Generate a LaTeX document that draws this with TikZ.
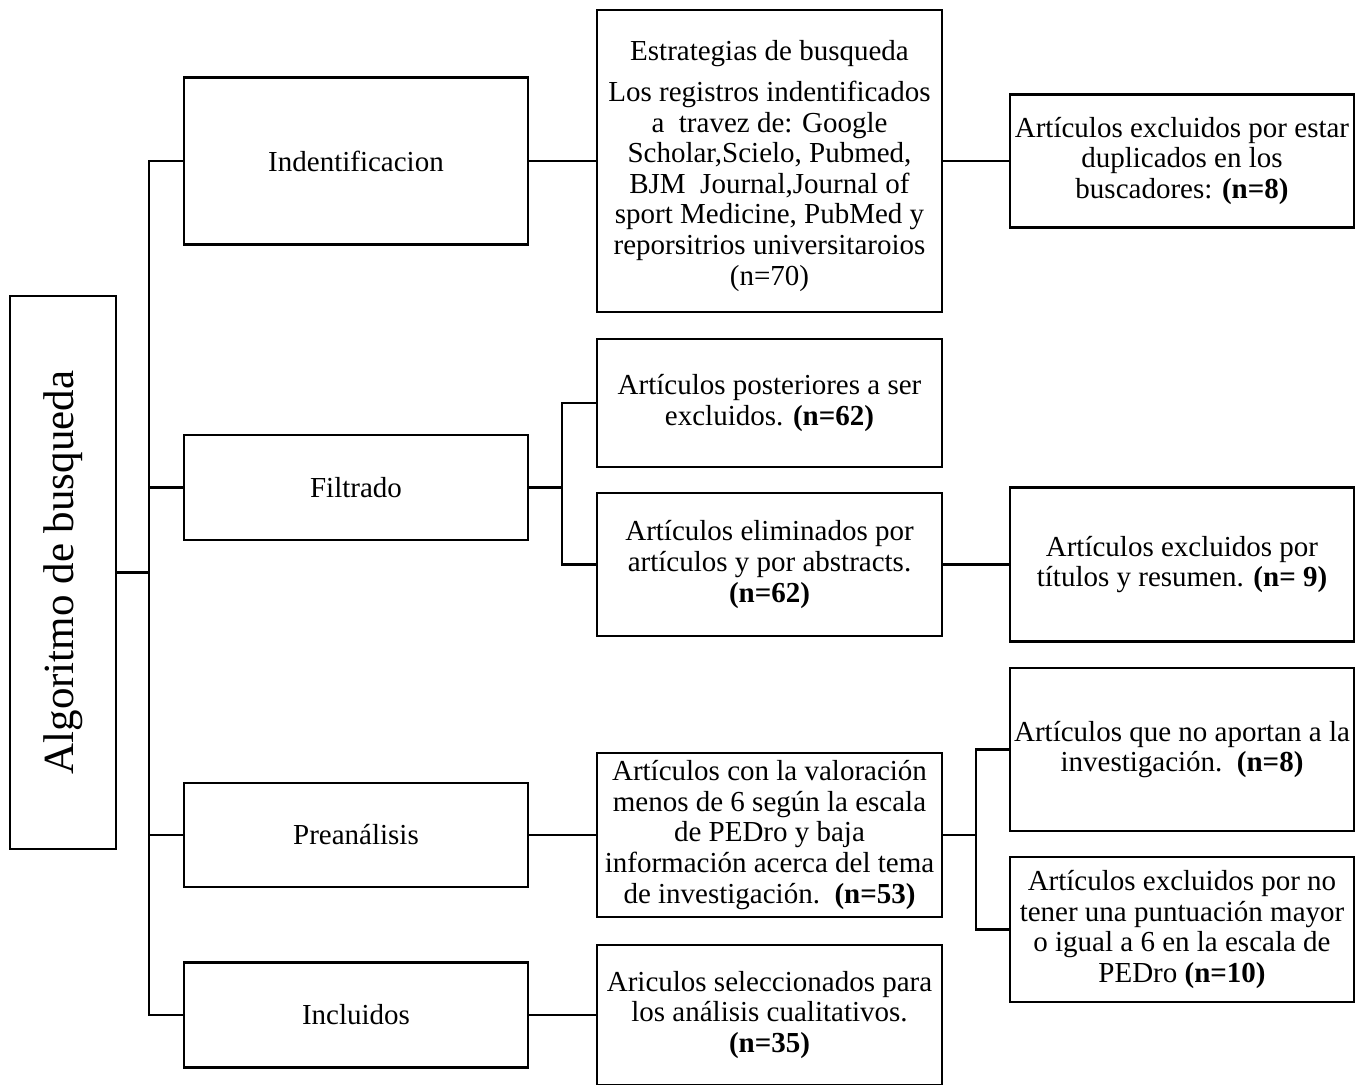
\documentclass[tikz,border=0pt]{standalone}
\usepackage{fontspec}
\setmainfont{Liberation Serif}
\usepackage{tikz}
\usetikzlibrary{positioning}
\tikzstyle{stage}=[rectangle, draw=black, line width=1.2pt, inner sep=1pt, align=center, font=\fontsize{14.5}{15.3}\selectfont]
\tikzstyle{link}=[draw=black, line width=1.2pt]

\begin{document}
\begin{tikzpicture}[x=0.5pt, y=-0.5pt]
      \useasboundingbox (0,0) rectangle (1371,1085);

      \node[stage, rotate=90, minimum width=276.5pt, minimum height=53pt, font=\fontsize{21.5}{24}\selectfont] (alg) at (63,572.5) {Algoritmo de busqueda};

      \node[stage, minimum width=172pt, minimum height=83.5pt] (ident) at (356,161) {Indentificacion};
      \node[stage, minimum width=172pt, minimum height=52.5pt] (filt) at (356,487.5) {Filtrado};
      \node[stage, minimum width=172pt, minimum height=52pt] (pre) at (356,835) {Preanálisis};
      \node[stage, minimum width=172pt, minimum height=52.5pt] (incl) at (356,1015) {Incluidos};

      \node[stage, minimum width=172.5pt, minimum height=151pt] (estr) at (769.5,161) {\rule{0pt}{15pt}Estrategias de busqueda\\[5pt]
            Los registros indentificados\\ a~~travez de: Google\\ Scholar,Scielo, Pubmed,\\ BJM~~Journal,Journal of\\
            sport Medicine, PubMed y\\ reporsitrios universitaroios\\ (n=70)};
      \node[stage, minimum width=172.5pt, minimum height=64pt] (post) at (769.5,403) {Artículos posteriores a ser\\ excluidos. \textbf{(n=62)}};
      \node[stage, minimum width=172.5pt, minimum height=71.5pt] (elim) at (769.5,564.5) {Artículos eliminados por\\ artículos y por abstracts.\\ \textbf{(n=62)}};
      \node[stage, minimum width=172.5pt, minimum height=82pt] (val) at (769.5,835) {Artículos con la valoración\\ menos de 6 según la escala\\
            de PEDro y baja\\ información acerca del tema\\ de investigación.~~\textbf{(n=53)}};
      \node[stage, minimum width=172.5pt, minimum height=70pt] (aric) at (769.5,1015) {Ariculos seleccionados para\\ los análisis cualitativos.\\ \textbf{(n=35)}};

      \node[stage, minimum width=172pt, minimum height=66.5pt] (dupl) at (1182,161) {Artículos excluidos por estar\\ duplicados en los\\ buscadores: \textbf{(n=8)}};
      \node[stage, minimum width=172pt, minimum height=77pt] (tit) at (1182,564.5) {Artículos excluidos por\\ títulos y resumen. \textbf{(n= 9)}};
      \node[stage, minimum width=172pt, minimum height=81.5pt] (aport) at (1182,749.5) {Artículos que no aportan a la\\ investigación.~~\textbf{(n=8)}};
      \node[stage, minimum width=172pt, minimum height=72.5pt] (punt) at (1182,929.5) {Artículos excluidos por no\\ tener una puntuación mayor\\
            o igual a 6 en la escala de\\ PEDro \textbf{(n=10)}};

      % branch points
      \coordinate (trunk) at (149,572.5);
      \coordinate (fsplit) at (562,487.5);
      \coordinate (vsplit) at (976,835);

      \draw[link] (alg.south) -- (trunk);
      \draw[link] (ident.west) -| (trunk) |- (incl.west);
      \draw[link] (filt.west) -| (trunk);
      \draw[link] (pre.west) -| (trunk);

      \draw[link] (ident.east) -- (estr.west);
      \draw[link] (estr.east) -- (dupl.west);

      \draw[link] (filt.east) -- (fsplit);
      \draw[link] (post.west) -| (fsplit) |- (elim.west);
      \draw[link] (elim.east) -- (tit.west);

      \draw[link] (pre.east) -- (val.west);
      \draw[link] (val.east) -- (vsplit);
      \draw[link] (aport.west) -| (vsplit) |- (punt.west);

      \draw[link] (incl.east) -- (aric.west);
\end{tikzpicture}
\end{document}
